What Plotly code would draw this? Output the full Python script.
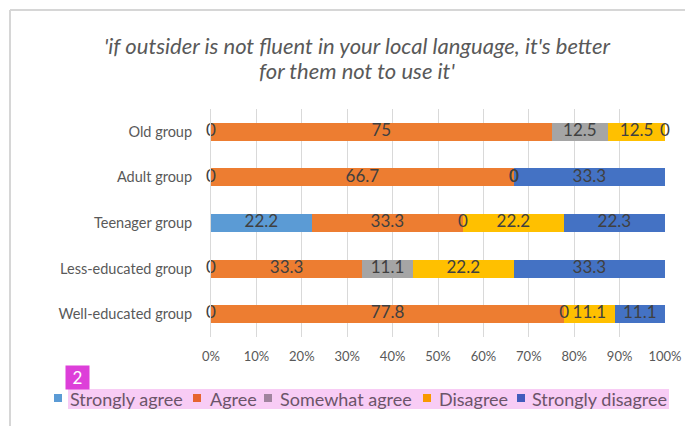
import plotly.graph_objects as go

# ---- data ----
categories = ["Old group", "Adult group", "Teenager group", "Less-educated group", "Well-educated group"]
series_names = ["Strongly agree", "Agree", "Somewhat agree", "Disagree", "Strongly disagree"]
strongly_agree = [0, 0, 22.2, 0, 0]
agree = [75, 66.7, 33.3, 33.3, 77.8]
somewhat_agree = [12.5, 0, 0, 11.1, 0]
disagree = [12.5, 0, 22.2, 22.2, 11.1]
strongly_disagree = [0, 33.3, 22.3, 33.3, 11.1]
x_ticks = [0, 10, 20, 30, 40, 50, 60, 70, 80, 90, 100]
title_lines = ["'if outsider is not fluent in your local language, it's better",
               "for them not to use it'"]

series = [strongly_agree, agree, somewhat_agree, disagree, strongly_disagree]
colors = ["#5B9BD5", "#ED7D31", "#A5A5A5", "#FFC000", "#4472C4"]
legend_sq_colors = ["#5B9BD5", "#E6642F", "#A0849E", "#F89900", "#425BBC"]

# page is 693x426 but the html body has an 8px margin
OFF = 8
PW, PH = 693, 426
W, H = PW - OFF, PH - OFF
L, R, T, B = 211, 665, 109, 337   # plot area in page pixels
def px(X):
    return (X - L) / (R - L)
def py(Y):
    return (B - Y) / (B - T)

FONT = "Lato"
fig = go.Figure()

# bars
for name, vals, col in zip(series_names, series, colors):
    fig.add_trace(go.Bar(
        y=categories, x=vals, name=name, orientation="h",
        marker=dict(color=col, line=dict(width=0)),
        showlegend=False, hoverinfo="x+y+name",
    ))

# data labels at segment centres (normalised to row totals, like a 100% stack)
totals = [sum(s[i] for s in series) for i in range(len(categories))]
cum = [0.0] * len(categories)
for vals in series:
    xs, ts = [], []
    for i, v in enumerate(vals):
        xs.append((cum[i] + v / 2) / totals[i] * 100)
        ts.append(f"{v:g}")
        cum[i] += v
    fig.add_trace(go.Scatter(
        x=xs, y=categories, mode="text", text=ts,
        textposition="middle center",
        textfont=dict(family=FONT, size=17, color="#404040"),
        showlegend=False, hoverinfo="skip", cliponaxis=False,
    ))

fig.update_layout(
    width=W, height=H,
    margin=dict(l=L - OFF, r=PW - R, t=T - OFF, b=PH - B, pad=0),
    barmode="stack", barnorm="percent", bargap=0.605,
    plot_bgcolor="white", paper_bgcolor="white",
    font=dict(family=FONT, color="#595959"),
    showlegend=False,
    xaxis=dict(range=[0, 100], tickvals=x_ticks, ticktext=[f"{t}%" for t in x_ticks],
               showgrid=True, gridcolor="#D9D9D9", gridwidth=1, zeroline=False,
               showline=False, ticks="", ticklabelstandoff=10,
               tickfont=dict(family=FONT, size=13, color="#595959"), fixedrange=True),
    yaxis=dict(autorange="reversed", showgrid=False, zeroline=False,
               showline=True, linecolor="#D9D9D9", linewidth=1, ticks="",
               ticklabelstandoff=15,
               tickfont=dict(family=FONT, size=14.5, color="#595959"), fixedrange=True),
)

shapes = []
# chart frame (left and top edges visible)
shapes.append(dict(type="line", xref="paper", yref="paper",
                   x0=px(10), x1=px(10), y0=py(426), y1=py(10),
                   line=dict(color="#D6D6D6", width=2), layer="above"))
shapes.append(dict(type="line", xref="paper", yref="paper",
                   x0=px(10), x1=px(693), y0=py(10), y1=py(10),
                   line=dict(color="#D6D6D6", width=2), layer="above"))
# highlight behind legend text
shapes.append(dict(type="rect", xref="paper", yref="paper",
                   x0=px(68), x1=px(669), y0=py(409), y1=py(389),
                   line=dict(width=0), fillcolor="#F8CCF5", layer="above"))
annotations = []
# title
for k, line in enumerate(title_lines):
    annotations.append(dict(xref="paper", yref="paper", x=px(357), y=py(45 + 26 * k),
                            text=f"<i>{line}</i>", showarrow=False, xanchor="center", yanchor="middle",
                            font=dict(family=FONT, size=22, color="#595959")))
# manual legend
sq_left = [54, 193, 264, 423, 517]
txt_left = [68, 208, 278, 437, 530]
for i, name in enumerate(series_names):
    shapes.append(dict(type="rect", xref="paper", yref="paper",
                       x0=px(sq_left[i]), x1=px(sq_left[i] + 8), y0=py(402), y1=py(394),
                       line=dict(width=0), fillcolor=legend_sq_colors[i], layer="above"))
    annotations.append(dict(xref="paper", yref="paper", x=px(txt_left[i]), y=py(398.5),
                            text=name, showarrow=False, xanchor="left", yanchor="middle",
                            font=dict(family=FONT, size=18, color="#6B5469")))
# "2" marker
annotations.append(dict(xref="paper", yref="paper", x=px(77.5), y=py(377), text="2",
                        showarrow=False, xanchor="center", yanchor="middle",
                        width=19, height=19, bgcolor="#DD3FD9", borderpad=2,
                        font=dict(family=FONT, size=17, color="white")))
fig.update_layout(shapes=shapes, annotations=annotations)

fig.write_html("out.html")
